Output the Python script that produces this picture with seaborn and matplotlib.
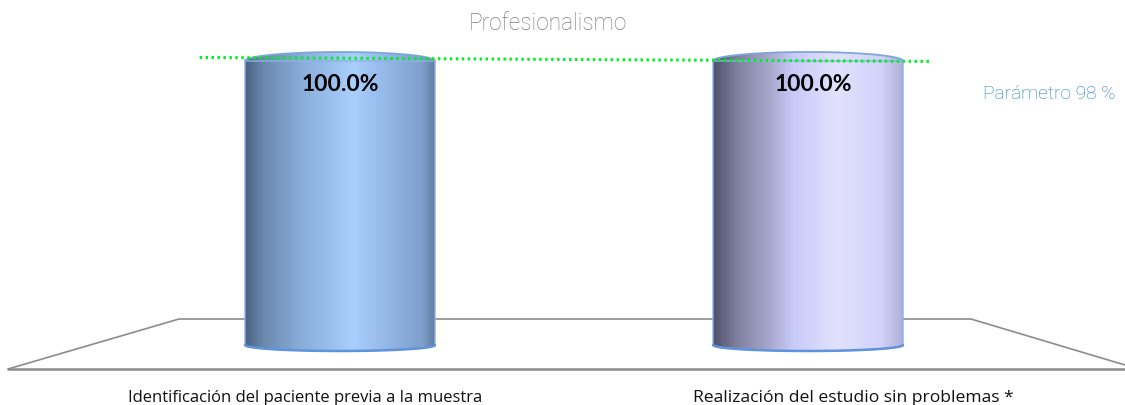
import numpy as np
import pandas as pd
import matplotlib
matplotlib.use('Agg')
import matplotlib.pyplot as plt
from matplotlib.colors import LinearSegmentedColormap
from matplotlib.patches import Ellipse, PathPatch
from matplotlib.path import Path
import seaborn as sns

categories = ['Identificación del paciente previa a la muestra',
              'Realización del estudio sin problemas *']
values = [100.0, 100.0]
value_labels = ['100.0%', '100.0%']
title = 'Profesionalismo'
parameter_label = 'Parámetro 98 %'
parameter_line = [100.9, 99.5]

left_stops = [(0, '#4b6280'), (0.1, '#6b8ab0'), (0.3, '#8aaedc'), (0.57, '#a9cffd'),
              (0.78, '#8fb2e2'), (0.93, '#7f9fcc'), (1, '#5e7a9e')]
right_stops = [(0, '#50506a'), (0.12, '#7e7e9e'), (0.3, '#a9a9cf'), (0.42, '#c9c9fa'),
               (0.65, '#e2e2fd'), (0.88, '#d2d2fb'), (1, '#aeaed6')]

W, H = 1125, 405
sns.set_theme(style='white')
plt.rcParams['font.family'] = ['Open Sans', 'DejaVu Sans']

fig = plt.figure(figsize=(W / 100, H / 100), dpi=100)
ax = fig.add_axes([0, 0, 1, 1])

df = pd.DataFrame({'category': categories, 'value': values})
sns.barplot(data=df, x='category', y='value', width=0.406, color='#8fb3e2', ax=ax)

# one category step is 468 px, 100 units are 285 px
xlim = (-340 / 468, (W - 340) / 468)
ylim = ((345 - H) / 2.85, 345 / 2.85)
ax.axis('off')

px = 1 / 2.85


def draw_cylinder(bar, stops):
    x0, w = bar.get_x(), bar.get_width()
    top, bottom = bar.get_height() - 1 * px, 0
    rx, ry_top, ry_bot = w / 2, 9 * px, 6 * px
    xc = x0 + w / 2
    bar.set_visible(False)

    # body outline with the rounded base
    n = 60
    t = np.linspace(np.pi, 2 * np.pi, n)
    xs = np.r_[x0, xc + rx * np.cos(t), x0 + w, x0]
    ys = np.r_[top, bottom + ry_bot * np.sin(t), top, top]
    clip = PathPatch(Path(np.c_[xs, ys]), transform=ax.transData,
                     fc='none', ec='#8db2e4', lw=1.0, zorder=3)
    ax.add_patch(clip)

    cmap = LinearSegmentedColormap.from_list('cyl', stops)
    grad = np.linspace(0, 1, 256).reshape(1, -1)
    im = ax.imshow(grad, cmap=cmap, aspect='auto', zorder=2,
                   extent=[x0, x0 + w, bottom - ry_bot, top + ry_top])
    im.set_clip_path(clip)

    # lid, same gradient, blue rim on the back edge
    lid = Ellipse((xc, top), w, 2 * ry_top, transform=ax.transData,
                  fc='none', ec='none')
    ax.add_patch(lid)
    im2 = ax.imshow(grad, cmap=cmap, aspect='auto', zorder=2.5,
                    extent=[x0, x0 + w, top - ry_top, top + ry_top])
    im2.set_clip_path(lid)
    t = np.linspace(0, np.pi, n)
    ax.plot(xc + rx * np.cos(t), top + ry_top * np.sin(t),
            color='#7ea6dc', lw=1.3, zorder=3)
    t = np.linspace(np.pi, 2 * np.pi, n)
    ax.plot(xc + rx * np.cos(t), bottom + ry_bot * np.sin(t),
            color='#5f93dc', lw=1.8, zorder=3)


bars = list(ax.patches)
for bar, stops in zip(bars, [left_stops, right_stops]):
    draw_cylinder(bar, stops)

ax.set_xlim(*xlim)
ax.set_ylim(*ylim)

# floor of the 3d chart
floor = dict(color='#8c8c8c', transform=ax.transAxes, zorder=1, solid_capstyle='round')
ax.plot(np.array([8, 179, 971, W]) / W, 1 - np.array([369, 319, 319, 365]) / H, lw=1.2, **floor)
ax.plot(np.array([8, W]) / W, 1 - np.array([369, 369]) / H, lw=1.8, **floor)

# parameter line
ax.plot([-0.30, 1.264], parameter_line, color='#00f020', lw=2.2,
        linestyle=(0, (0.8, 1.15)), zorder=4)

label_shift = [0.0, 0.011]
for i, lab in enumerate(value_labels):
    ax.text(i + label_shift[i], 91.3, lab, ha='center', va='center', family='Lato',
            fontsize=16.5, fontweight='bold', color='black', zorder=5)

label_px = [128, 693]
label_size = [12, 12.6]
for cat, x, size in zip(categories, label_px, label_size):
    ax.text(x / W, 1 - 398 / H, cat, transform=ax.transAxes, ha='left', va='center',
            fontsize=size, color='#111111')

ax.text(548 / W, 1 - 24 / H, title, transform=ax.transAxes, ha='center', va='center',
        family='Roboto', fontsize=16.3, fontweight='light', color='#7c7c7c')
ax.text(1049 / W, 1 - 94 / H, parameter_label, transform=ax.transAxes, ha='center', va='center',
        family='Roboto', fontsize=13.8, fontweight='light', color='#1f7cc4')

fig.savefig('out.png', dpi=100)
